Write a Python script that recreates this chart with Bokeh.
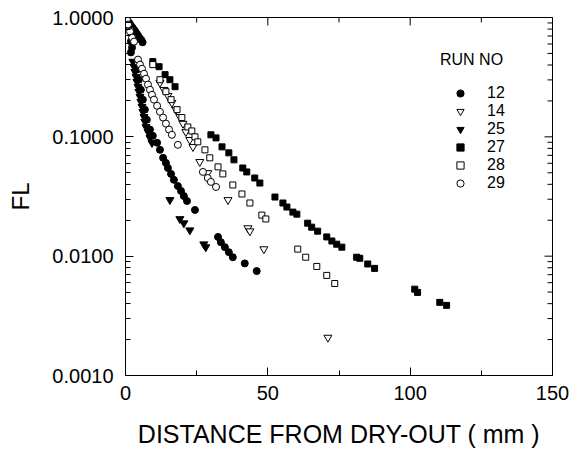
import math
from bokeh.plotting import figure
from bokeh.models import FixedTicker, PrintfTickFormatter, Range1d
from bokeh.embed import file_html
from bokeh.resources import INLINE

FONT = "Liberation Sans"

# ---- data (distance from dry-out in mm, FL) ----
run12_x = [0, 0.5, 1.0, 1.5, 2.0, 2.5, 3.0, 3.5, 4.0, 4.5, 5.0, 5.5, 6.0, 1.9, 2.3, 1.9,
           4.0, 4.7, 5.4, 6.1, 6.8, 7.5,
           8.6, 9.6, 11.1, 12.1, 13.2, 14.2, 14.9, 16.0, 17.0, 18.4, 19.5, 20.5, 21.6,
           24.4, 32.5, 33.5, 34.9, 36.3, 37.7, 41.9, 46.1]
run12_fl = [1.0, 0.96, 0.92, 0.89, 0.85, 0.82, 0.79, 0.76, 0.73, 0.70, 0.67, 0.65, 0.62, 0.63, 0.56, 0.51,
            0.366, 0.301, 0.248, 0.205, 0.169, 0.139,
            0.115, 0.102, 0.0892, 0.0778, 0.0667, 0.0605, 0.0548, 0.0489, 0.0436, 0.0387, 0.0352, 0.0319, 0.0290,
            0.0244, 0.0145, 0.0131, 0.0119, 0.0108, 0.0098, 0.0087, 0.0075]

run14_x = [1.6, 12.1, 13.5, 14.9, 16.3, 17.7, 19.1, 20.2, 21.2, 22.6, 23.7, 26.1, 28.9, 36.0, 43.0, 43.7, 48.6, 71.1]
run14_fl = [0.79, 0.284, 0.248, 0.221, 0.193, 0.169, 0.147, 0.129, 0.110, 0.0944, 0.0824, 0.0617, 0.0498,
            0.0296, 0.0172, 0.0162, 0.01146, 0.00208]

run25_x = [2.6, 3.0, 3.3, 3.7, 4.0, 4.4, 4.7, 5.1, 5.4, 5.8, 6.1, 6.5, 6.8, 7.2, 7.9, 8.6, 9.3,
           15.6, 19.1, 20.5, 22.6, 27.5, 28.2]
run25_fl = [0.427, 0.387, 0.351, 0.319, 0.290, 0.263, 0.239, 0.217, 0.197, 0.179, 0.162, 0.147, 0.134, 0.121,
            0.110, 0.098, 0.089, 0.0296, 0.0205, 0.0189, 0.0165, 0.0126, 0.0119]

run27_x = [9.6, 11.8, 13.9, 15.6, 17.4, 30.0, 31.8, 33.9, 36.3, 38.1, 41.2, 42.6, 45.4, 47.2, 52.5, 55.3, 56.7,
           58.8, 60.2, 64.0, 65.4, 67.5, 70.7, 72.5, 74.2, 76.0, 81.2, 82.3, 85.1, 87.5, 101.6, 102.6, 110.4, 112.8]
run27_fl = [0.427, 0.387, 0.332, 0.301, 0.263, 0.104, 0.098, 0.0824, 0.0734, 0.0642, 0.0548, 0.0508, 0.0452,
            0.0410, 0.0313, 0.0279, 0.0258, 0.0234, 0.0225, 0.0189, 0.0175, 0.0162, 0.0145, 0.0134, 0.0126,
            0.0119, 0.0098, 0.0096, 0.0086, 0.0079, 0.00529, 0.00497, 0.0041, 0.00387]

run28_x = [9.6, 12.1, 14.2, 16.0, 18.1, 19.8, 21.9, 23.3, 24.4, 25.4, 27.9, 29.6, 32.5, 34.2, 37.7, 40.9, 43.7,
           47.9, 49.3, 60.5, 63.3, 67.2, 70.7, 73.5]
run28_fl = [0.403, 0.301, 0.239, 0.205, 0.169, 0.145, 0.121, 0.112, 0.100, 0.0908, 0.0778, 0.0667, 0.0560,
            0.0489, 0.0395, 0.0332, 0.0279, 0.0221, 0.0205, 0.01146, 0.0098, 0.0082, 0.0069, 0.0059]

run29_x = [0.5, 0.9, 1.6, 2.3, 3.0, 4.4, 5.1, 5.8, 6.5, 7.2, 7.9, 8.6, 9.3, 10.0, 11.1, 12.1, 13.2, 14.2, 15.3,
           16.3, 18.4, 27.2, 28.9, 30.0, 31.8]
run29_fl = [0.96, 0.873, 0.762, 0.679, 0.628, 0.444, 0.403, 0.372, 0.338, 0.307, 0.274, 0.248, 0.225, 0.205,
            0.182, 0.162, 0.145, 0.129, 0.115, 0.104, 0.0857, 0.0508, 0.0452, 0.0419, 0.0380]

y_ticks = [0.001, 0.01, 0.1, 1.0]
y_minor = [m * d for d in [0.001, 0.01, 0.1] for m in range(2, 10)]
x_ticks = [0, 50, 100, 150]
x_minor = [25, 75, 125]
X_MIN, X_MAX = 0, 150
Y_MIN, Y_MAX = 0.001, 1.0

p = figure(width=577, height=452, y_axis_type="log",
           x_range=Range1d(X_MIN, X_MAX), y_range=Range1d(Y_MIN, Y_MAX),
           output_backend="svg", toolbar_location=None,
           min_border_left=125, min_border_right=25, min_border_top=17, min_border_bottom=77)

p.grid.visible = False
p.outline_line_color = "black"
p.outline_line_width = 1
p.background_fill_color = "white"
p.border_fill_color = "white"

def style_axis(ax):
    ax.axis_line_color = "black"
    ax.major_tick_in = 8
    ax.major_tick_out = 0
    ax.minor_tick_in = 5
    ax.minor_tick_out = 0
    ax.major_tick_line_color = "black"
    ax.minor_tick_line_color = "black"
    ax.major_label_text_font = FONT
    ax.major_label_text_color = "black"
    ax.major_label_text_font_size = "20px"
    ax.axis_label_text_font = FONT
    ax.axis_label_text_color = "black"
    ax.axis_label_text_font_style = "normal"

xa = p.xaxis[0]
xa.ticker = FixedTicker(ticks=x_ticks, minor_ticks=x_minor)
style_axis(xa)
xa.major_label_standoff = 10
xa.axis_label = "DISTANCE FROM DRY-OUT ( mm )"
xa.axis_label_text_font_size = "25px"
xa.axis_label_standoff = 17

ya = p.yaxis[0]
ya.ticker = FixedTicker(ticks=y_ticks, minor_ticks=y_minor)
ya.formatter = PrintfTickFormatter(format="%.4f")
style_axis(ya)
ya.major_label_standoff = 12
ya.axis_label = "FL"
ya.axis_label_text_font_size = "24px"
ya.axis_label_standoff = 15

# inward ticks on the top and right frame edges (half of each dash is clipped by the frame)
p.scatter(x_ticks, [Y_MAX] * len(x_ticks), marker="dash", angle=math.pi / 2, size=16, line_color="black")
p.scatter(x_minor, [Y_MAX] * len(x_minor), marker="dash", angle=math.pi / 2, size=10, line_color="black")
p.scatter([X_MAX] * len(y_ticks), y_ticks, marker="dash", size=16, line_color="black")
p.scatter([X_MAX] * len(y_minor), y_minor, marker="dash", size=10, line_color="black")

p.scatter(run12_x, run12_fl, marker="circle", size=7, fill_color="black", line_color="black", legend_label="12")
p.scatter(run14_x, run14_fl, marker="inverted_triangle", size=8, fill_color="white", line_color="black", legend_label="14")
p.scatter(run25_x, run25_fl, marker="inverted_triangle", size=8, fill_color="black", line_color="black", legend_label="25")
p.scatter(run27_x, run27_fl, marker="square", size=6, fill_color="black", line_color="black", legend_label="27")
p.scatter(run28_x, run28_fl, marker="square", size=6, fill_color="white", line_color="black", legend_label="28")
p.scatter(run29_x, run29_fl, marker="circle", size=7, fill_color="white", line_color="black", legend_label="29")

lg = p.legend[0]
lg.title = "RUN NO"
lg.title_text_font = FONT
lg.title_text_font_size = "16px"
lg.title_text_font_style = "normal"
lg.title_text_color = "black"
lg.title_standoff = 15
lg.label_text_font = FONT
lg.label_text_font_size = "16px"
lg.label_text_color = "black"
lg.glyph_width = 40
lg.glyph_height = 18
lg.label_height = 18
lg.label_standoff = 7
lg.spacing = 0
lg.padding = 0
lg.margin = 0
lg.border_line_color = None
lg.background_fill_alpha = 0
lg.location = (315, 183)

open("out.html", "w").write(file_html(p, INLINE))
